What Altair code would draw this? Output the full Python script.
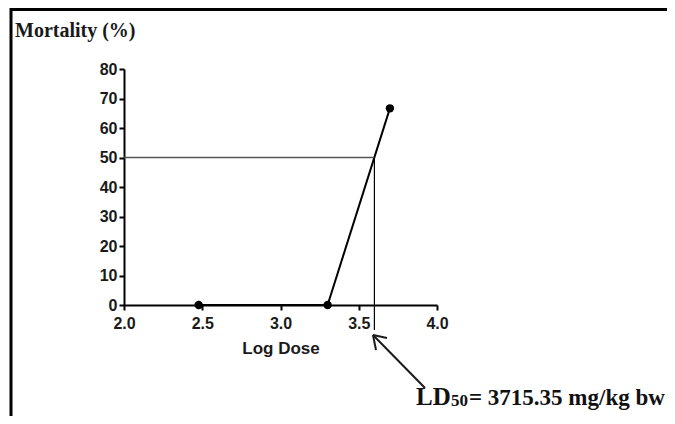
import altair as alt
import pandas as pd

# data
log_dose = [2.477, 3.301, 3.699]
mortality = [0.0, 0.0, 66.67]
ld50_x = 3.60
ld50_y = 50
x_ticks = [2.0, 2.5, 3.0, 3.5, 4.0]
y_ticks = [0, 10, 20, 30, 40, 50, 60, 70, 80]

W, H = 313, 236
PL, PT = 116, 61
TOTAL_W, TOTAL_H = 659, 408

df = pd.DataFrame({"dose": log_dose, "mort": mortality})
ref = pd.DataFrame({"x0": [x_ticks[0]], "x": [ld50_x], "y": [ld50_y]})
one = pd.DataFrame({"a": [0]})

xs = alt.Scale(domain=[x_ticks[0], x_ticks[-1]], nice=False, zero=False)
ys = alt.Scale(domain=[y_ticks[0], y_ticks[-1]], nice=False)

xaxis = alt.Axis(values=x_ticks, format=".1f", title="Log Dose", grid=False, labelFlush=False,
                 domainColor="black", domainWidth=2, tickColor="black", tickWidth=2,
                 tickSize=5, labelFont="Liberation Sans", labelFontWeight="bold",
                 labelFontSize=16, labelColor="#1a1a1a", labelPadding=5,
                 titleFont="Liberation Sans", titleFontWeight="bold", titleFontSize=17,
                 titleColor="#1a1a1a", titlePadding=9)
yaxis = alt.Axis(values=y_ticks, title=None, grid=False, labelOverlap=False, labelFlush=False,
                 domainColor="black", domainWidth=2, tickColor="black", tickWidth=2,
                 tickSize=5, labelFont="Liberation Sans", labelFontWeight="bold",
                 labelFontSize=16, labelColor="#1a1a1a", labelPadding=2)

X = lambda f: alt.X(f, type="quantitative", scale=xs, axis=xaxis)
Y = lambda f: alt.Y(f, type="quantitative", scale=ys, axis=yaxis)

line = alt.Chart(df).mark_line(color="black", strokeWidth=2).encode(x=X("dose"), y=Y("mort"))
pts = alt.Chart(df).mark_point(filled=True, color="black", size=70, opacity=1).encode(
    x=X("dose"), y=Y("mort"))
hline = alt.Chart(ref).mark_rule(color="#555555", strokeWidth=1.5).encode(
    x=X("x0"), x2="x:Q", y=Y("y"))
vline = alt.Chart(ref).mark_rule(color="black", strokeWidth=1.2).encode(
    x=X("x"), y=Y("y"), y2=alt.value(330 - 8 - PT))

def px(v):
    return v - 8 - PL

def py(v):
    return v - 8 - PT

frame_top = alt.Chart(one).mark_rule(color="black", strokeWidth=3).encode(
    x=alt.value(px(10)), x2=alt.value(TOTAL_W), y=alt.value(py(9.5))
)
frame_left = alt.Chart(one).mark_rule(color="black", strokeWidth=3).encode(
    x=alt.value(px(11)), y=alt.value(py(8)), y2=alt.value(TOTAL_H)
)

ytitle = alt.Chart(one).mark_text(text="Mortality (%)", font="Liberation Serif", fontWeight="bold",
                                   fontSize=20, align="left", baseline="alphabetic", color="#1a1a1a").encode(
    x=alt.value(px(15)), y=alt.value(py(37))
)

shaft = alt.Chart(one).mark_rule(color="#1a1a1a", strokeWidth=2).encode(
    x=alt.value(px(425)), y=alt.value(py(388)), x2=alt.value(px(373)), y2=alt.value(py(335))
)
arm1 = alt.Chart(one).mark_rule(color="#1a1a1a", strokeWidth=2).encode(
    x=alt.value(px(373)), y=alt.value(py(335)), x2=alt.value(px(387)), y2=alt.value(py(338))
)
arm2 = alt.Chart(one).mark_rule(color="#1a1a1a", strokeWidth=2).encode(
    x=alt.value(px(373)), y=alt.value(py(335)), x2=alt.value(px(376)), y2=alt.value(py(350))
)

tstyle = dict(font="Liberation Serif", fontWeight="bold", align="left", baseline="alphabetic", color="#111111")
t1 = alt.Chart(one).mark_text(text="LD", fontSize=25, **tstyle).encode(
    x=alt.value(px(416)), y=alt.value(py(405)))
t2 = alt.Chart(one).mark_text(text="50", fontSize=17, **tstyle).encode(
    x=alt.value(px(451)), y=alt.value(py(406)))
t3 = alt.Chart(one).mark_text(text="= 3715.35 mg/kg bw", fontSize=23, **tstyle).encode(
    x=alt.value(px(469)), y=alt.value(py(405)))

chart = alt.layer(line, hline, vline, pts, frame_top, frame_left, ytitle, shaft, arm1, arm2, t1, t2, t3).properties(
    width=W, height=H,
    background="white",
    autosize=alt.AutoSizeParams(type="none"),
    padding={"left": PL, "top": PT, "right": TOTAL_W - PL - W, "bottom": TOTAL_H - PT - H},
).configure_view(strokeWidth=0, stroke="transparent")

chart.save("out.html", embed_options={"renderer": "svg", "actions": False})
